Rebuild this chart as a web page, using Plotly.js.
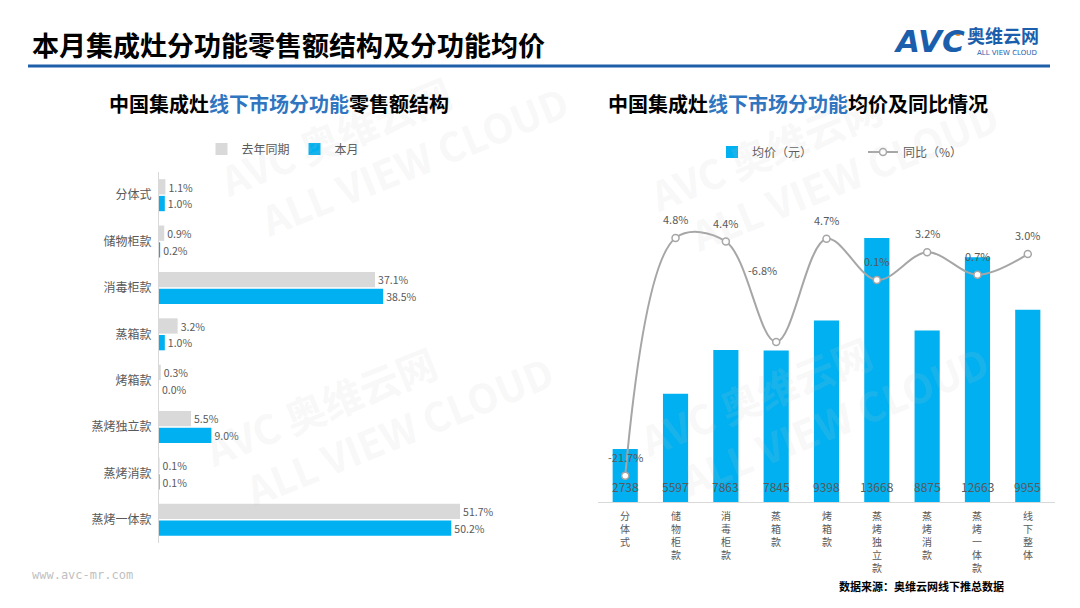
<!DOCTYPE html>
<html>
<head>
<meta charset="utf-8">
<script src="https://cdn.plot.ly/plotly-3.0.1.min.js"></script>
<style>html,body{margin:0;padding:0;background:#fff;}#chart{width:1080px;height:608px;}</style>
</head>
<body>
<div id="chart"></div>
<script>
// ---- data ----
const shareCategories = ['分体式','储物柜款','消毒柜款','蒸箱款','烤箱款','蒸烤独立款','蒸烤消款','蒸烤一体款'];
const shareLastYear = [1.1, 0.9, 37.1, 3.2, 0.3, 5.5, 0.1, 51.7];
const shareThisMonth = [1.0, 0.2, 38.5, 1.0, 0.0, 9.0, 0.1, 50.2];

const priceCategories = ['分体式','储物柜款','消毒柜款','蒸箱款','烤箱款','蒸烤独立款','蒸烤消款','蒸烤一体款','线下整体'];
const avgPrice = [2738, 5597, 7863, 7845, 9398, 13668, 8875, 12663, 9955];
const yoyChange = [-21.7, 4.8, 4.4, -6.8, 4.7, 0.1, 3.2, 0.7, 3.0];

// ---- helpers ----
const W = 1080, H = 608;
const px = x => x / W;
const py = y => 1 - y / H;
const FONT = '"Noto Sans CJK SC", "Microsoft YaHei", sans-serif';
const GRAY_TXT = '#595959';
const BLUE = '#00b0f0';
const LGRAY = '#d9d9d9';
const fmtPct = v => v.toFixed(1) + '%';
const vertical = s => s.split('').join('<br>');

const traces = [
  {
    type: 'bar', orientation: 'h', name: '去年同期',
    y: shareCategories, x: shareLastYear,
    xaxis: 'x', yaxis: 'y', legend: 'legend',
    marker: {color: LGRAY},
    width: 0.33, offset: -0.345,
    text: shareLastYear.map(fmtPct), textposition: 'outside', cliponaxis: false,
    textfont: {size: 11, color: GRAY_TXT, family: FONT},
    hoverinfo: 'skip'
  },
  {
    type: 'bar', orientation: 'h', name: '本月',
    y: shareCategories, x: shareThisMonth,
    xaxis: 'x', yaxis: 'y', legend: 'legend',
    marker: {color: BLUE},
    width: 0.33, offset: 0.015,
    text: shareThisMonth.map(fmtPct), textposition: 'outside', cliponaxis: false,
    textfont: {size: 11, color: GRAY_TXT, family: FONT},
    hoverinfo: 'skip'
  },
  {
    type: 'bar', name: '均价（元）',
    x: priceCategories, y: avgPrice,
    xaxis: 'x2', yaxis: 'y2', legend: 'legend2',
    marker: {color: BLUE}, width: 0.5,
    hoverinfo: 'skip'
  },
  {
    type: 'scatter', mode: 'lines+markers', name: '同比（%）',
    x: priceCategories, y: yoyChange,
    xaxis: 'x2', yaxis: 'y3', legend: 'legend2',
    line: {color: '#a6a6a6', width: 2, shape: 'spline', smoothing: 1},
    marker: {size: 7, color: '#ffffff', line: {color: '#a6a6a6', width: 1.5}},
    cliponaxis: false,
    hoverinfo: 'skip'
  }
];

const annotations = [];
// watermarks (drawn first, faint)
const wm = [[345,160],[775,175],[330,430],[765,420]];
wm.forEach(([x,y]) => {
  annotations.push({xref:'paper', yref:'paper', x: px(x), y: py(y), xanchor:'center', yanchor:'middle',
    text:'<b>AVC 奥维云网</b><br><b>              ALL VIEW CLOUD</b>', showarrow:false, textangle:-22,
    font:{family:FONT, size:40, color:'rgba(200,200,200,0.14)'}});
});
// header title
annotations.push({xref:'paper', yref:'paper', x: px(30), y: py(44), xanchor:'left', yanchor:'middle',
  text:'本月集成灶分功能零售额结构及分功能均价', showarrow:false,
  font:{family:FONT, size:27, color:'#000000', weight:'bold'}});
// sub titles
annotations.push({xref:'paper', yref:'paper', x: px(279), y: py(103), xanchor:'center', yanchor:'middle',
  text:'中国集成灶<span style="color:#2f75c0">线下市场分功能</span>零售额结构', showarrow:false,
  font:{family:FONT, size:20, color:'#000000', weight:'bold'}});
annotations.push({xref:'paper', yref:'paper', x: px(798), y: py(103), xanchor:'center', yanchor:'middle',
  text:'中国集成灶<span style="color:#2f75c0">线下市场分功能</span>均价及同比情况', showarrow:false,
  font:{family:FONT, size:20, color:'#000000', weight:'bold'}});
// logo
annotations.push({xref:'paper', yref:'paper', x: px(891), y: py(41), xanchor:'left', yanchor:'middle',
  text:'<b><i>AVC</i></b>', showarrow:false, font:{family:'"DejaVu Sans", sans-serif', size:31, color:'#1b5fac'}});
annotations.push({xref:'paper', yref:'paper', x: px(965), y: py(35), xanchor:'left', yanchor:'middle',
  text:'奥维云网', showarrow:false, font:{family:FONT, size:18, color:'#1b5fac', weight:'bold'}});
annotations.push({xref:'paper', yref:'paper', x: px(975), y: py(53), xanchor:'left', yanchor:'middle',
  text:'ALL VIEW CLOUD', showarrow:false, font:{family:'"DejaVu Sans", sans-serif', size:7, color:'#1b5fac'}});
// footer
annotations.push({xref:'paper', yref:'paper', x: px(30), y: py(575), xanchor:'left', yanchor:'middle',
  text:'www.avc-mr.com', showarrow:false, font:{family:'"DejaVu Sans Mono", monospace', size:12, color:'#bfbfbf'}});
annotations.push({xref:'paper', yref:'paper', x: px(837), y: py(586), xanchor:'left', yanchor:'middle',
  text:'数据来源：奥维云网线下推总数据', showarrow:false, font:{family:FONT, size:11, color:'#000000', weight:'bold'}});
// vertical category labels
priceCategories.forEach(c => {
  annotations.push({xref:'x2', yref:'y2', x:c, y:0, xanchor:'center', yanchor:'top',
    yshift: -4, text: vertical(c), showarrow:false,
    font:{family:FONT, size:10, color:GRAY_TXT}});
});
// price value labels in bars
priceCategories.forEach((c,i) => {
  annotations.push({xref:'x2', yref:'y2', x:c, y:0, xanchor:'center', yanchor:'bottom', yshift:5,
    text:String(avgPrice[i]), showarrow:false, font:{family:FONT, size:12, color:GRAY_TXT}});
});
// yoy labels
priceCategories.forEach((c,i) => {
  const v = yoyChange[i];
  const dip = (i > 0 && v < yoyChange[i-1] && i < yoyChange.length-1 && v < yoyChange[i+1] && v < 0);
  annotations.push({xref:'x2', yref:'y3', x:c, y:v, xanchor:'center', yanchor:'bottom',
    yshift: dip ? 62 : 9, xshift: dip ? -14 : 0,
    text: fmtPct(v), showarrow:false, font:{family:FONT, size:11, color:GRAY_TXT}});
});

const layout = {
  width: W, height: H,
  margin: {l:0, r:0, t:0, b:0},
  paper_bgcolor: '#ffffff', plot_bgcolor: 'rgba(0,0,0,0)',
  showlegend: true,
  barmode: 'overlay',
  font: {family: FONT, color: GRAY_TXT, size: 12},
  xaxis: {domain:[px(159), px(520)], range:[0, 62], visible:false, fixedrange:true},
  yaxis: {domain:[py(543), py(172)], type:'category', autorange:'reversed', anchor:'x',
    showline:true, linecolor:LGRAY, linewidth:1, ticks:'', showgrid:false, zeroline:false,
    tickfont:{size:12, color:GRAY_TXT, family:FONT}, ticklabelstandoff: 4},
  xaxis2: {domain:[px(598), px(1055)], anchor:'y2', type:'category', showline:true, linecolor:LGRAY,
    linewidth:1, ticks:'', showgrid:false, zeroline:false, showticklabels:false},
  yaxis2: {domain:[py(502), py(200)], range:[0, 15631], visible:false, anchor:'x2'},
  yaxis3: {overlaying:'y2', range:[-24.64, 9.03], visible:false, anchor:'x2'},
  legend: {orientation:'h', x: px(283), xanchor:'center', y: py(149), yanchor:'middle',
    font:{size:12, color:GRAY_TXT, family:FONT}, bgcolor:'rgba(0,0,0,0)', itemwidth:30},
  legend2: {orientation:'h', x: px(712), xanchor:'left', y: py(152), yanchor:'middle',
    font:{size:12, color:GRAY_TXT, family:FONT}, bgcolor:'rgba(0,0,0,0)', itemwidth:30,
    entrywidth:106, entrywidthmode:'pixels'},
  shapes: [
    {type:'line', xref:'paper', yref:'paper', x0:px(28), x1:px(1050), y0:py(66), y1:py(66),
     line:{color:'#1f5faa', width:3}},
    {type:'circle', xref:'paper', yref:'paper', x0:px(955), x1:px(961), y0:py(36), y1:py(30),
     fillcolor:'#f08a1c', line:{width:0}}
  ],
  annotations: annotations
};

Plotly.newPlot('chart', traces, layout, {displayModeBar:false, staticPlot:true});
</script>
</body>
</html>
